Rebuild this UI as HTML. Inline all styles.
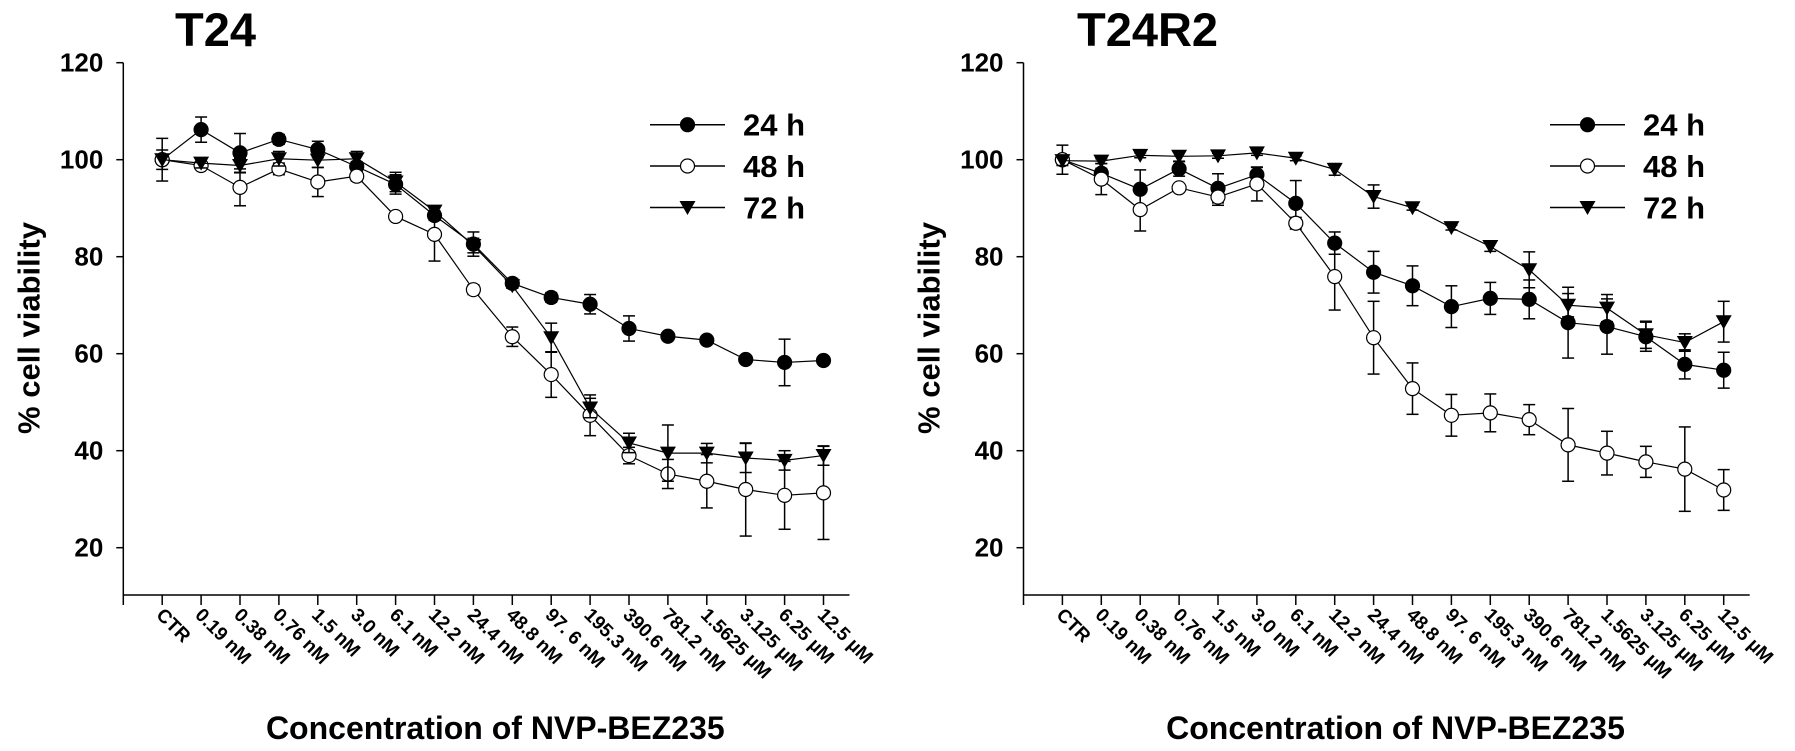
<!DOCTYPE html>
<html><head><meta charset="utf-8"><style>
html,body{margin:0;padding:0;background:#fff;}
svg{display:block;font-family:"Liberation Sans",Arial,sans-serif;}
</style></head><body>
<svg id="fig" width="1795" height="751" viewBox="0 0 1795 751" xmlns="http://www.w3.org/2000/svg"></svg>
<script>
const categories = ["CTR","0.19 nM","0.38 nM","0.76 nM","1.5 nM","3.0 nM","6.1 nM","12.2 nM","24.4 nM","48.8 nM","97. 6 nM","195.3 nM","390.6 nM","781.2 nM","1.5625 µM","3.125 µM","6.25 µM","12.5 µM"];
const yTicks = [20,40,60,80,100,120];
const seriesNames = ["24 h","48 h","72 h"];
// T24
const t24_24h = [100,106.2,101.4,104.2,102.1,98.6,94.9,88.5,82.6,74.5,71.6,70.2,65.2,63.6,62.8,58.8,58.2,58.6];
const t24_24hErr = [2,2.6,4,1,1.7,1,2,1,2.5,1,1,2,2.6,0.7,0.6,0.6,4.8,0.6];
const t24_48h = [100,98.8,94.3,98.1,95.4,96.6,88.3,84.6,73.2,63.5,55.7,47.3,39,35.2,33.7,32,30.8,31.3];
const t24_48hErr = [0.5,0.5,3.8,1.2,3,1,0.8,5.5,1,2,4.7,4.2,1.7,3,5.5,9.6,7,9.6];
const t24_72h = [100,99.3,98.8,100.2,99.9,100.2,95.4,89.4,82.3,74,63.3,48.8,41.6,39.5,39.5,38.5,38,39];
const t24_72hErr = [4.4,1,1.5,1.5,1.5,1.5,2,1,1.5,0.5,3,2,2,5.8,2,3,2,2];
// T24R2
const r2_24h = [100,97.2,93.9,98.1,94.1,96.9,91,82.8,76.8,74,69.7,71.4,71.2,66.4,65.6,63.5,57.8,56.6];
const r2_24hErr = [3,1,4,1.5,3,1.5,4.7,2.3,4.3,4.1,4.3,3.3,4,7.3,5.7,3,3,3.7];
const r2_48h = [100,96,89.7,94.2,92.3,95,86.9,75.9,63.3,52.8,47.3,47.8,46.4,41.2,39.5,37.7,36.2,31.9];
const r2_48hErr = [0.5,3.2,4.4,0.5,1.7,3.5,1.2,6.9,7.5,5.3,4.3,3.9,3.1,7.5,4.5,3.2,8.7,4.2];
const r2_72h = [99.8,99.7,100.9,100.7,100.8,101.4,100.3,98,92.4,90.1,86,82.1,77.3,70,69.4,63.9,62.3,66.6];
const r2_72hErr = [1,0.5,0.5,1,0.5,0.5,0.5,1.2,2.4,0.5,0.5,1,3.7,2.4,2.8,2.8,1.8,4.2];

const NS="http://www.w3.org/2000/svg";
const svg=document.getElementById('fig');
function mk(tag,attrs,parent){const e=document.createElementNS(NS,tag);for(const k in attrs)e.setAttribute(k,attrs[k]);(parent||svg).appendChild(e);return e;}

function drawPanel(axisX,title,titleX,legendX,s24,e24,s48,e48,s72,e72,id){
  const g=mk('g',{});
  
  
  const yTop=62.7, yUnit=4.85, axisBottom=595, step=38.9;
  const y=v=>yTop+(120-v)*yUnit;
  const x=i=>axisX+(i+1)*step;
  const t=mk('text',{x:titleX,y:46,'font-size':47,'font-weight':'bold'},g);t.textContent=title;
  
  
  const ya=mk('line',{x1:axisX,y1:yTop,x2:axisX,y2:axisBottom,stroke:'#000','stroke-width':1.5},g);
  
  
  const xa=mk('line',{x1:axisX,y1:axisBottom,x2:x(17)+26,y2:axisBottom,stroke:'#000','stroke-width':1.5},g);
  
  
  yTicks.forEach(v=>{
    mk('line',{x1:axisX-7,y1:y(v),x2:axisX,y2:y(v),stroke:'#000','stroke-width':1.5},g);
    const tl=mk('text',{x:axisX-20,y:y(v)+9,'font-size':26,'font-weight':'bold','text-anchor':'end'},g);
    tl.textContent=v;
    
    
  });
  mk('line',{x1:axisX,y1:axisBottom,x2:axisX,y2:axisBottom+10,stroke:'#000','stroke-width':1.5},g);
  categories.forEach((c,i)=>{
    mk('line',{x1:x(i),y1:axisBottom,x2:x(i),y2:axisBottom+10,stroke:'#000','stroke-width':1.5},g);
    const tl=mk('text',{x:0,y:0,'font-size':19,'font-weight':'bold',transform:`translate(${x(i)-7},${616}) rotate(45)`},g);
    tl.textContent=c;
    
    
  });
  const yl=mk('text',{x:0,y:0,'font-size':31,'font-weight':'bold','text-anchor':'middle',transform:`translate(${axisX-84},328) rotate(-90)`},g);
  yl.textContent='% cell viability';
  
  
  const xl=mk('text',{x:axisX+372,y:739,'font-size':32,'font-weight':'bold','text-anchor':'middle'},g);
  xl.textContent='Concentration of NVP-BEZ235';
  
  

  const series=[[s24,e24,'filled'],[s48,e48,'open'],[s72,e72,'tri']];
  function marker(px,py,type,parent){
    if(type==='tri') return mk('path',{d:`M${px-8},${py-6.5} L${px+8},${py-6.5} L${px},${py+7.5} Z`,fill:'#000'},parent);
    return mk('circle',{cx:px,cy:py,r:7,fill:type==='filled'?'#000':'#fff',stroke:'#000','stroke-width':1.2},parent);
  }
  series.forEach(([vals,errs,type],si)=>{
    const sg=mk('g',{},g);
    
    
    vals.forEach((v,i)=>{
      const e=errs[i];
      mk('line',{x1:x(i),y1:y(v+e),x2:x(i),y2:y(v-e),stroke:'#000','stroke-width':1.5},sg);
      mk('line',{x1:x(i)-6,y1:y(v+e),x2:x(i)+6,y2:y(v+e),stroke:'#000','stroke-width':1.5},sg);
      mk('line',{x1:x(i)-6,y1:y(v-e),x2:x(i)+6,y2:y(v-e),stroke:'#000','stroke-width':1.5},sg);
    });
    mk('polyline',{points:vals.map((v,i)=>x(i)+','+y(v)).join(' '),fill:'none',stroke:'#000','stroke-width':1.2},sg);
    vals.forEach((v,i)=>{const m=marker(x(i),y(v),type,sg);
      
      });
  });
  const ly=[124.7,166,207.5];
  ['filled','open','tri'].forEach((type,k)=>{
    const lg=mk('g',{},g);
    
    
    mk('line',{x1:legendX,y1:ly[k],x2:legendX+75,y2:ly[k],stroke:'#000','stroke-width':1.5},lg);
    marker(legendX+37.5,ly[k],type,lg);
    const tx=mk('text',{x:legendX+93,y:ly[k]+11,'font-size':31,'font-weight':'bold'},lg);
    tx.textContent=seriesNames[k];
  });
}
drawPanel(123.3,'T24',175,650,t24_24h,t24_24hErr,t24_48h,t24_48hErr,t24_72h,t24_72hErr,'t24');
drawPanel(1023.5,'T24R2',1077,1550,r2_24h,r2_24hErr,r2_48h,r2_48hErr,r2_72h,r2_72hErr,'t24r2');
</script>
</body></html>
